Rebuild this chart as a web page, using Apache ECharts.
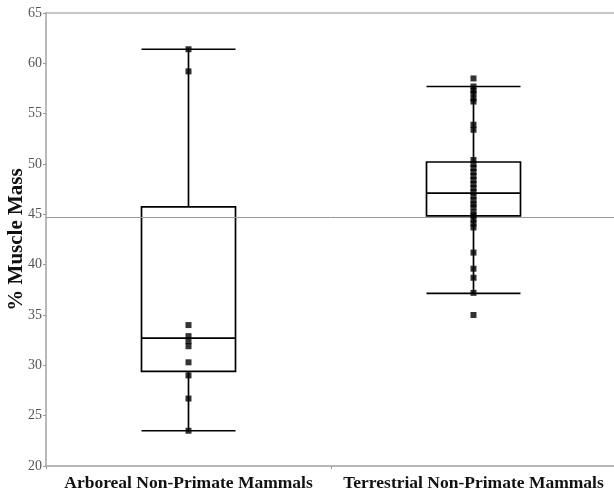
<!DOCTYPE html>
<html>
<head>
<meta charset="utf-8">
<script src="https://cdn.jsdelivr.net/npm/echarts@6/dist/echarts.min.js"></script>
<style>html,body{margin:0;padding:0;background:#fff}#c{width:614px;height:493px}</style>
</head>
<body>
<div id="c"></div>
<script>
const categories = ['Arboreal Non-Primate Mammals', 'Terrestrial Non-Primate Mammals'];
// [lower whisker, Q1, median, Q3, upper whisker]
const arborealBox = [23.5, 29.4, 32.7, 45.75, 61.4];
const terrestrialBox = [37.15, 44.85, 47.1, 50.2, 57.7];
const arborealPoints = [61.4, 59.2, 34.0, 32.9, 32.4, 31.9, 30.3, 29.0, 26.7, 23.5];
const terrestrialPoints = [58.5, 57.7, 57.3, 57.0, 56.5, 56.2, 53.9, 53.4, 50.4, 50.0, 49.6, 49.2, 48.8, 48.4, 48.0, 47.6, 47.2, 46.8, 46.4, 46.0, 45.7, 45.2, 44.9, 44.5, 44.1, 43.7, 41.2, 39.6, 38.7, 37.2, 35.0];
const referenceLine = 44.7;
const yTicks = {min: 20, max: 65, interval: 5};

const serif = "'Liberation Serif', 'Times New Roman', serif";
const chart = echarts.init(document.getElementById('c'), null, {renderer: 'canvas'});
const pts = [];
arborealPoints.forEach(v => pts.push([0, v]));
terrestrialPoints.forEach(v => pts.push([1, v]));

chart.setOption({
  animation: false,
  grid: {left: 46, top: 13, right: -2, bottom: 27, containLabel: false, outerBoundsMode: 'none',
         show: true, borderColor: '#b4b4b4', borderWidth: 1.5},
  xAxis: {
    type: 'category', data: categories,
    axisLine: {lineStyle: {color: '#b4b4b4', width: 1.5}},
    axisTick: {show: true, length: 3, lineStyle: {color: '#999'}},
    axisLabel: {interval: 0, color: '#111', fontFamily: serif, fontWeight: 'bold', fontSize: 17.5, margin: 8}
  },
  yAxis: {
    type: 'value', min: yTicks.min, max: yTicks.max, interval: yTicks.interval,
    name: '% Muscle Mass', nameLocation: 'middle', nameGap: 19, nameMoveOverlap: false,
    nameTextStyle: {color: '#111', fontFamily: serif, fontWeight: 'bold', fontSize: 21},
    splitLine: {show: false},
    axisLine: {show: true, lineStyle: {color: '#b4b4b4', width: 1.5}},
    axisTick: {show: true, length: 3, lineStyle: {color: '#999'}},
    axisLabel: {color: '#555', fontFamily: serif, fontSize: 14, margin: 4}
  },
  series: [
    {
      type: 'boxplot',
      data: [arborealBox, terrestrialBox],
      boxWidth: [94, 94],
      itemStyle: {color: '#fff', borderColor: '#000', borderWidth: 1.7},
      silent: true,
      markLine: {
        silent: true, symbol: ['none', 'none'], label: {show: false},
        lineStyle: {color: '#999', width: 1, type: 'solid'},
        data: [{yAxis: referenceLine}]
      }
    },
    {
      type: 'scatter',
      data: pts,
      symbol: 'rect',
      symbolSize: 6,
      itemStyle: {color: '#000'},
      z: 5
    }
  ]
});
</script>
</body>
</html>
